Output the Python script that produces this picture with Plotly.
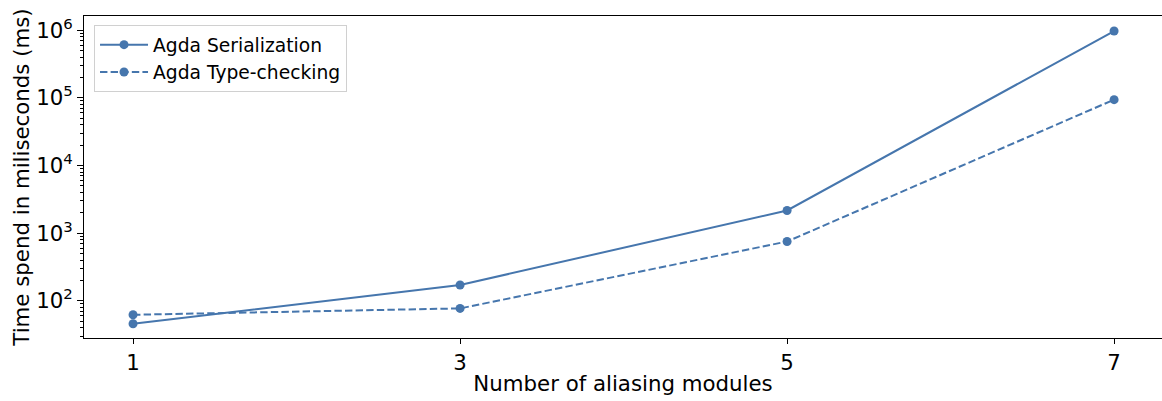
import plotly.graph_objects as go

# Benchmark results: number of aliasing modules vs. time (ms)
modules = [1, 3, 5, 7]
serialization_ms = [45.7, 171, 2160, 973000]
typechecking_ms = [62, 77, 751, 94000]

y_tick_vals = [1e2, 1e3, 1e4, 1e5, 1e6]
y_tick_text = ["10<sup>2</sup>", "10<sup>3</sup>", "10<sup>4</sup>", "10<sup>5</sup>", "10<sup>6</sup>"]

color = "#4676ad"
font = "DejaVu Sans, sans-serif"

fig = go.Figure()
fig.add_trace(go.Scatter(
    x=modules, y=serialization_ms, name="Agda Serialization",
    mode="lines+markers",
    line=dict(color=color, width=2),
    marker=dict(color=color, size=9),
))
fig.add_trace(go.Scatter(
    x=modules, y=typechecking_ms, name="Agda Type-checking",
    mode="lines+markers",
    line=dict(color=color, width=2, dash="7.4px,3.2px"),
    marker=dict(color=color, size=9),
))

fig.update_layout(
    width=1162, height=401,
    margin=dict(l=84, r=0, t=16, b=63),
    paper_bgcolor="white", plot_bgcolor="white",
    font=dict(family=font, color="black"),
    showlegend=True,
    legend=dict(
        x=0.0093, y=0.972, xanchor="left", yanchor="top",
        bordercolor="#d0d0d0", borderwidth=1, bgcolor="white",
        font=dict(size=18.7, family=font), itemwidth=48,
        tracegroupgap=0,
    ),
)

fig.update_xaxes(
    range=[0.7, 7.293],
    tickvals=modules, ticktext=[str(m) for m in modules],
    ticks="outside", ticklen=5, tickwidth=1, tickcolor="black",
    tickfont=dict(size=21.3),
    showline=True, linecolor="black", linewidth=1, mirror=True,
    showgrid=False, zeroline=False,
    title=dict(text="Number of aliasing modules", font=dict(size=21.3), standoff=2),
)
fig.update_yaxes(
    type="log", range=[1.449, 6.21],
    tickvals=y_tick_vals, ticktext=y_tick_text,
    ticks="outside", ticklen=6, tickwidth=1, tickcolor="black",
    tickfont=dict(size=21.3),
    minor=dict(ticks="outside", ticklen=3, tickwidth=0.8, tickcolor="black",
               dtick="D1", showgrid=False),
    showline=True, linecolor="black", linewidth=1, mirror=False,
    showgrid=False, zeroline=False,
    title=dict(text="Time spend in miliseconds (ms)", font=dict(size=21.3), standoff=0),
)

fig.write_html("out.html")
